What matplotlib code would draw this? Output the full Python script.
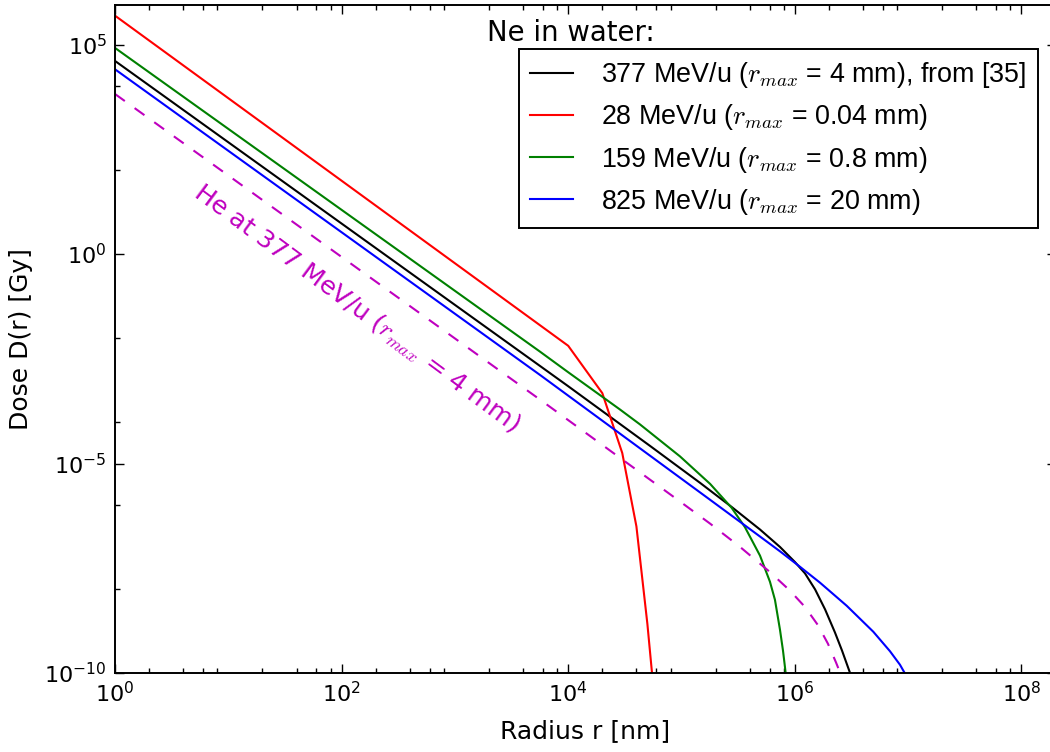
import matplotlib
matplotlib.use("Agg")
import matplotlib.pyplot as plt
from matplotlib.ticker import FixedLocator, LogFormatterSciNotation, NullFormatter

plt.rcParams["font.family"] = ["DejaVu Sans"]
plt.rcParams["mathtext.fontset"] = "cm"
plt.rcParams["axes.unicode_minus"] = False

# Radial dose profiles D(r) in water: radius [nm] -> dose [Gy]
r_ne377 = [1, 5.64e3, 1e4, 5.27e4, 1.46e5, 2.77e5, 4.93e5, 7.40e5, 1.00e6, 1.23e6, 1.51e6,
           1.85e6, 2.26e6, 2.61e6, 3.07e6, 3.33e6]
d_ne377 = [4.07e4, 2.13e-3, 7.00e-4, 2.64e-5, 3.45e-6, 9.20e-7, 2.66e-7, 1.02e-7, 4.49e-8,
           2.39e-8, 9.91e-9, 3.30e-9, 9.33e-10, 3.44e-10, 1.01e-10, 5.26e-11]

r_ne28 = [1, 1e4, 2e4, 3e4, 4e4, 5e4, 6e4]
d_ne28 = [4.90e5, 6.46e-3, 4.79e-4, 1.78e-5, 3.16e-7, 1.48e-9, 7.9e-12]

r_ne159 = [1, 5.64e3, 1e4, 2.87e4, 4.30e4, 9.70e4, 1.79e5, 2.77e5, 3.63e5, 4.93e5, 6.04e5,
           6.68e5, 7.40e5, 7.87e5, 8.20e5, 8.45e5]
d_ne159 = [8.32e4, 4.68e-3, 1.51e-3, 1.94e-4, 8.59e-5, 1.48e-5, 3.26e-6, 8.77e-7, 3.03e-7,
           6.34e-8, 1.50e-8, 5.60e-9, 1.08e-9, 3.40e-10, 1.34e-10, 6.5e-11]

r_ne825 = [1, 5.64e3, 1.79e5, 4.93e5, 7.40e5, 1.11e6, 1.67e6, 2.87e6, 4.93e6, 6.92e6, 8.47e6,
           9.29e6, 1.02e7]
d_ne825 = [2.57e4, 1.30e-3, 1.36e-6, 1.81e-7, 8.02e-8, 3.44e-8, 1.43e-8, 4.03e-9, 9.66e-10,
           3.31e-10, 1.58e-10, 1.02e-10, 6.5e-11]

r_he377 = [1, 6.24e3, 9.70e4, 1.79e5, 3.29e5, 6.04e5, 9.07e5, 1.23e6, 1.60e6, 1.96e6, 2.31e6,
           2.51e6, 2.72e6]
d_he377 = [6.61e3, 2.75e-4, 1.24e-6, 3.67e-7, 1.02e-7, 2.56e-8, 9.23e-9, 3.77e-9, 1.39e-9,
           5.02e-10, 1.79e-10, 1.02e-10, 5.5e-11]

labels = [
    "377 MeV/u ($r_{max}$ = 4 mm), from [35]",
    "28 MeV/u ($r_{max}$ = 0.04 mm)",
    "159 MeV/u ($r_{max}$ = 0.8 mm)",
    "825 MeV/u ($r_{max}$ = 20 mm)",
]
he_label = "He at 377 MeV/u ($r_{max}$ = 4 mm)"

x_major = [1e0, 1e2, 1e4, 1e6, 1e8]
x_minor = [m * 10.0 ** k for k in range(0, 9) for m in (2, 4, 6, 8)]
y_major = [1e-10, 1e-5, 1e0, 1e5]
y_minor = [1e-8, 1e-6, 1e-4, 1e-2, 1e2, 1e4]

fig = plt.figure(figsize=(10.5, 7.52), dpi=100)
ax = fig.add_axes([115 / 1050, 79 / 752, 940.5 / 1050, 668 / 752])

lw = 1.5
ax.plot(r_ne377, d_ne377, color="k", lw=lw, label=labels[0])
ax.plot(r_ne28, d_ne28, color="r", lw=lw, label=labels[1])
ax.plot(r_ne159, d_ne159, color="g", lw=lw, label=labels[2])
ax.plot(r_ne825, d_ne825, color="b", lw=lw, label=labels[3])
ax.plot(r_he377, d_he377, color="m", lw=lw, dashes=(5.8, 5.8))

ax.set_xscale("log")
ax.set_yscale("log")
ax.set_xlim(1, 2e8)
ax.set_ylim(1e-10, 8.8e5)

ax.xaxis.set_major_locator(FixedLocator(x_major))
ax.xaxis.set_minor_locator(FixedLocator(x_minor))
ax.yaxis.set_major_locator(FixedLocator(y_major))
ax.yaxis.set_minor_locator(FixedLocator(y_minor))
ax.xaxis.set_major_formatter(LogFormatterSciNotation())
ax.yaxis.set_major_formatter(LogFormatterSciNotation())
ax.xaxis.set_minor_formatter(NullFormatter())
ax.yaxis.set_minor_formatter(NullFormatter())

ax.tick_params(which="both", direction="in", top=True, right=True, labelsize=16)
ax.tick_params(which="major", length=6.5, width=1.0, pad=6)
ax.tick_params(which="minor", length=3.5, width=1.0)
for sp in ax.spines.values():
    sp.set_linewidth(1.4)

ax.set_xlabel("Radius r [nm]", fontsize=18, labelpad=9)
ax.set_ylabel("Dose D(r) [Gy]", fontsize=18, labelpad=8)

ax.text(134, 0.0488, he_label, color="m", fontsize=18.3, rotation=-36.5,
        ha="center", va="center", rotation_mode="anchor")

fig.text(487 / 1050, 1 - 33 / 752, "Ne in water:", fontsize=19.8, ha="left", va="center")

leg = ax.legend(loc="upper right", bbox_to_anchor=(1038 / 1050, 1 - 49 / 752),
                bbox_transform=fig.transFigure, borderaxespad=0,
                prop={"family": "Liberation Sans", "size": 19.4},
                fancybox=False, framealpha=1, edgecolor="k",
                handlelength=1.6, handletextpad=1.05, labelspacing=0.45, borderpad=0.42)
leg.get_frame().set_linewidth(1.4)

fig.savefig("out.png", dpi=100)
